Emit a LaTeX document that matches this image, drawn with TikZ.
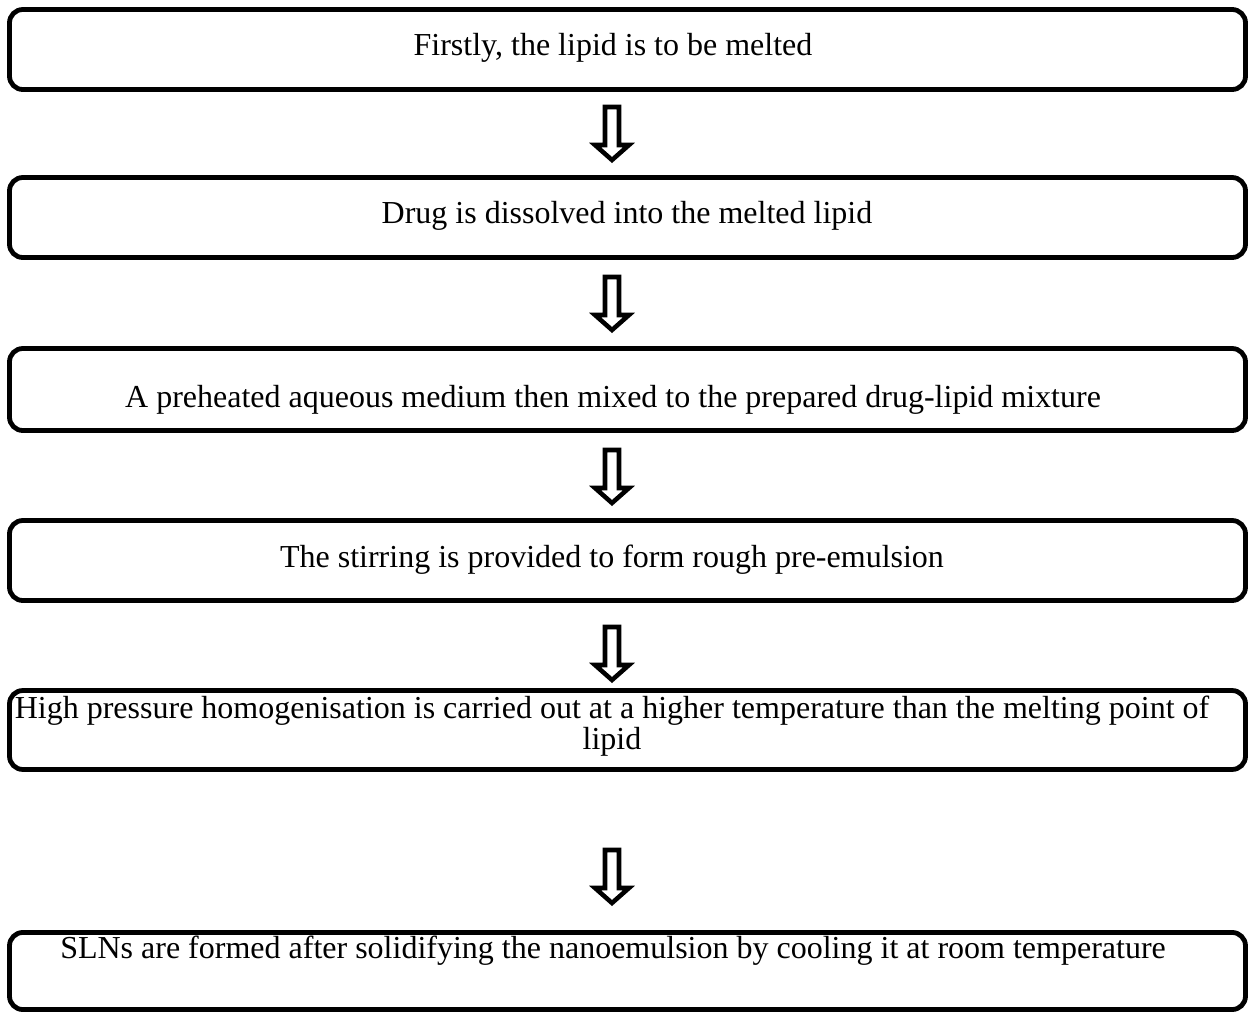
\documentclass[tikz,border=0pt]{standalone}
\usepackage{fontspec}
\setmainfont{Liberation Serif}
\usepackage{tikz}
\usetikzlibrary{positioning}

\begin{document}
\begin{tikzpicture}[x=0.375pt,y=-0.375pt,
    stepbox/.style={draw, line width=1.8pt, rounded corners=5pt,
      minimum width=463.5pt, minimum height=30pt, inner sep=0pt},
    steptext/.style={font=\fontsize{12}{11.6}\selectfont, align=center, inner sep=0pt},
    downarrow/.pic={\draw[line width=1.7pt, line join=miter]
      (-7,2) -- (7,2) -- (7,40) -- (17,40) -- (0,55) -- (-17,40) -- (-7,40) -- cycle;}]
  \useasboundingbox (0,0) rectangle (1249,1014);

  % boxes
  \node[stepbox] (b1) at (627.5,49.5) {};
  \node[stepbox] (b2) at (627.5,217.5) {};
  \node[stepbox, minimum height=30.75pt] (b3) at (627.5,389.5) {};
  \node[stepbox] (b4) at (627.5,560.5) {};
  \node[stepbox, minimum height=29.6pt] (b5) at (627.5,730) {};
  \node[stepbox, minimum height=28.9pt] (b6) at (627.5,971) {};

  % texts
  \node[steptext] (t1) at (613,48) {Firstly, the lipid is to be melted};
  \node[steptext] (t2) at (627,216) {Drug is dissolved into the melted lipid};
  \node[steptext] (t3) at (613,400) {A preheated aqueous medium then mixed to the prepared drug-lipid mixture};
  \node[steptext] (t4) at (612,560) {The stirring is provided to form rough pre-emulsion};
  \node[steptext] (t5) at (612,726) {High pressure homogenisation is carried out at a higher temperature than the melting point of\\lipid};
  \node[steptext] (t6) at (613,951) {SLNs are formed after solidifying the nanoemulsion by cooling it at room temperature};

  % arrows
  \pic (a1) at (612,105) {downarrow};
  \pic (a2) at (612,275) {downarrow};
  \pic (a3) at (612,448) {downarrow};
  \pic (a4) at (612,625) {downarrow};
  \pic (a5) at (612,848) {downarrow};
\end{tikzpicture}
\end{document}
